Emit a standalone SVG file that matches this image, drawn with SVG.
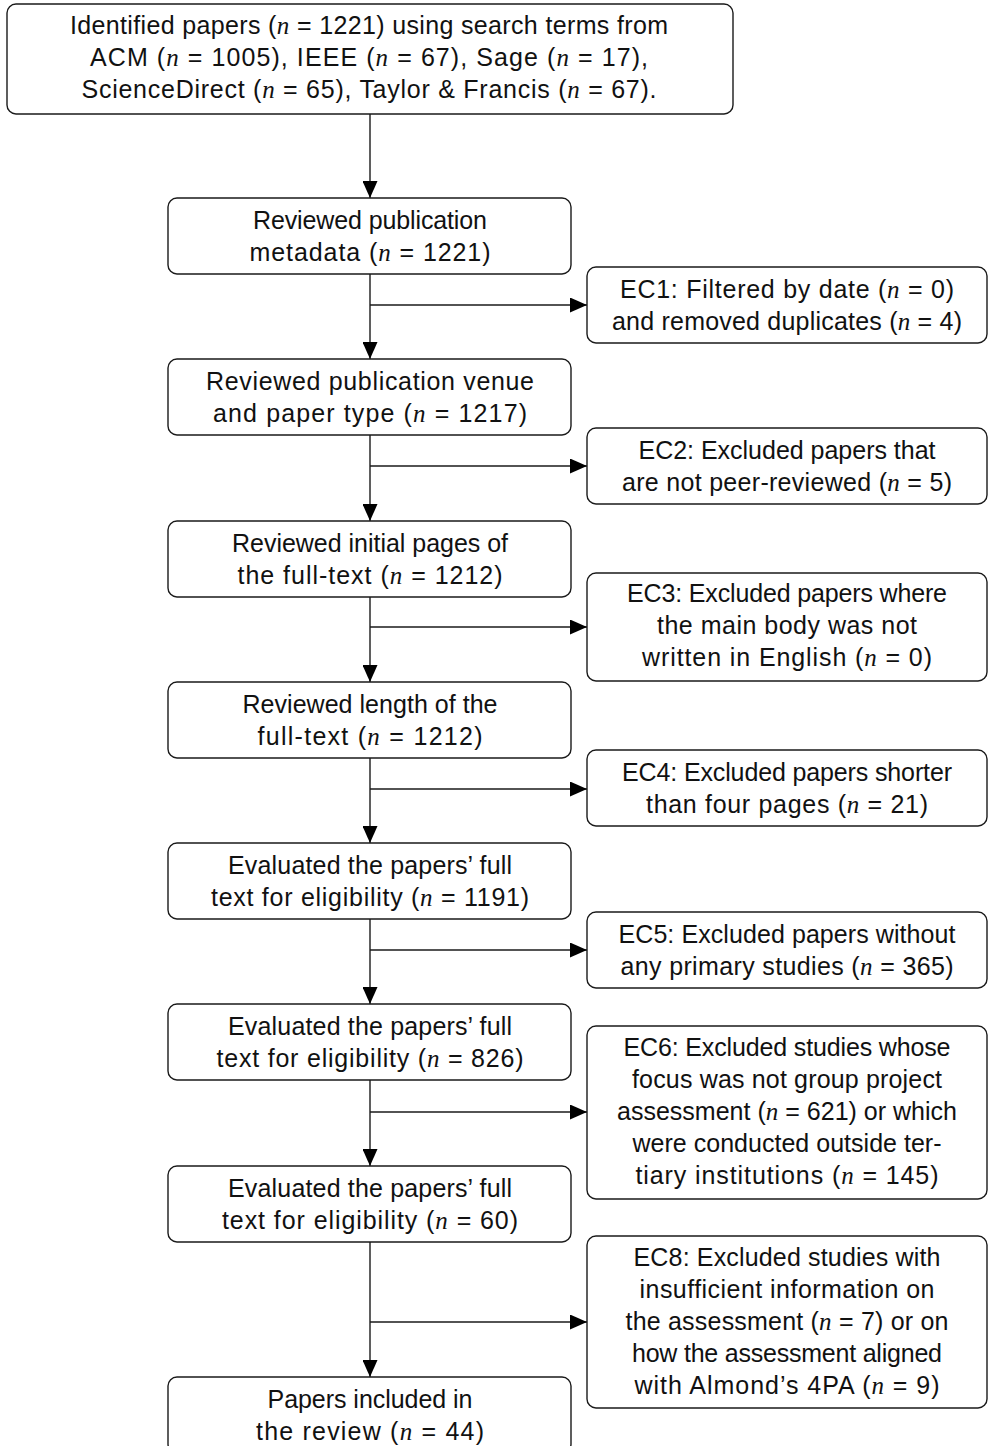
<svg xmlns="http://www.w3.org/2000/svg" width="988" height="1446" viewBox="0 0 988 1446">
<style>
.box{fill:#ffffff;stroke:#1a1a1a;stroke-width:1.4}
.t{font-family:"Liberation Sans",Arial,sans-serif;font-size:25px;fill:#111111;text-anchor:middle}
.n{font-family:"Liberation Serif","Times New Roman",serif;font-style:italic}
.c{fill:none;stroke:#1a1a1a;stroke-width:1.4}
</style>
<defs>
<marker id="ah" markerUnits="userSpaceOnUse" markerWidth="17" markerHeight="15" refX="17" refY="7.5" orient="auto">
<path d="M0,0 L17,7.5 L0,15 Z" fill="#000000"/>
</marker>
</defs>
<rect width="988" height="1446" fill="#ffffff"/>
<g id="connectors">
<path class="c" d="M370,114 V198" marker-end="url(#ah)"/>
<path class="c" d="M370,274 V359" marker-end="url(#ah)"/>
<path class="c" d="M370,305 H587" marker-end="url(#ah)"/>
<path class="c" d="M370,435 V521" marker-end="url(#ah)"/>
<path class="c" d="M370,466 H587" marker-end="url(#ah)"/>
<path class="c" d="M370,597 V682" marker-end="url(#ah)"/>
<path class="c" d="M370,627 H587" marker-end="url(#ah)"/>
<path class="c" d="M370,758 V843" marker-end="url(#ah)"/>
<path class="c" d="M370,789 H587" marker-end="url(#ah)"/>
<path class="c" d="M370,919 V1004" marker-end="url(#ah)"/>
<path class="c" d="M370,950 H587" marker-end="url(#ah)"/>
<path class="c" d="M370,1080 V1166" marker-end="url(#ah)"/>
<path class="c" d="M370,1112 H587" marker-end="url(#ah)"/>
<path class="c" d="M370,1242 V1377" marker-end="url(#ah)"/>
<path class="c" d="M370,1322 H587" marker-end="url(#ah)"/>
</g>
<g id="identified">
<rect class="box" x="7" y="4" width="726" height="110" rx="9"/>
<text class="t" x="369" y="34" textLength="598" lengthAdjust="spacing">Identified papers (<tspan class="n">n</tspan> = 1221) using search terms from</text>
<text class="t" x="369" y="66" textLength="558" lengthAdjust="spacing">ACM (<tspan class="n">n</tspan> = 1005), IEEE (<tspan class="n">n</tspan> = 67), Sage (<tspan class="n">n</tspan> = 17),</text>
<text class="t" x="369" y="98" textLength="575" lengthAdjust="spacing">ScienceDirect (<tspan class="n">n</tspan> = 65), Taylor &amp; Francis (<tspan class="n">n</tspan> = 67).</text>
</g>
<g id="metadata">
<rect class="box" x="168" y="198" width="403" height="76" rx="9"/>
<text class="t" x="370" y="229" textLength="234" lengthAdjust="spacing">Reviewed publication</text>
<text class="t" x="370" y="261" textLength="241" lengthAdjust="spacing">metadata (<tspan class="n">n</tspan> = 1221)</text>
</g>
<g id="venue">
<rect class="box" x="168" y="359" width="403" height="76" rx="9"/>
<text class="t" x="370" y="390" textLength="328" lengthAdjust="spacing">Reviewed publication venue</text>
<text class="t" x="370" y="422" textLength="314" lengthAdjust="spacing">and paper type (<tspan class="n">n</tspan> = 1217)</text>
</g>
<g id="initial">
<rect class="box" x="168" y="521" width="403" height="76" rx="9"/>
<text class="t" x="370" y="552" textLength="276" lengthAdjust="spacing">Reviewed initial pages of</text>
<text class="t" x="370" y="584" textLength="265" lengthAdjust="spacing">the full-text (<tspan class="n">n</tspan> = 1212)</text>
</g>
<g id="length">
<rect class="box" x="168" y="682" width="403" height="76" rx="9"/>
<text class="t" x="370" y="713" textLength="255" lengthAdjust="spacing">Reviewed length of the</text>
<text class="t" x="370" y="745" textLength="225" lengthAdjust="spacing">full-text (<tspan class="n">n</tspan> = 1212)</text>
</g>
<g id="eval1191">
<rect class="box" x="168" y="843" width="403" height="76" rx="9"/>
<text class="t" x="370" y="874" textLength="284" lengthAdjust="spacing">Evaluated the papers’ full</text>
<text class="t" x="370" y="906" textLength="318" lengthAdjust="spacing">text for eligibility (<tspan class="n">n</tspan> = 1191)</text>
</g>
<g id="eval826">
<rect class="box" x="168" y="1004" width="403" height="76" rx="9"/>
<text class="t" x="370" y="1035" textLength="284" lengthAdjust="spacing">Evaluated the papers’ full</text>
<text class="t" x="370" y="1067" textLength="307" lengthAdjust="spacing">text for eligibility (<tspan class="n">n</tspan> = 826)</text>
</g>
<g id="eval60">
<rect class="box" x="168" y="1166" width="403" height="76" rx="9"/>
<text class="t" x="370" y="1197" textLength="284" lengthAdjust="spacing">Evaluated the papers’ full</text>
<text class="t" x="370" y="1229" textLength="296" lengthAdjust="spacing">text for eligibility (<tspan class="n">n</tspan> = 60)</text>
</g>
<g id="included">
<rect class="box" x="168" y="1377" width="403" height="76" rx="9"/>
<text class="t" x="370" y="1408" textLength="205" lengthAdjust="spacing">Papers included in</text>
<text class="t" x="370" y="1440" textLength="228" lengthAdjust="spacing">the review (<tspan class="n">n</tspan> = 44)</text>
</g>
<g id="ec1">
<rect class="box" x="587" y="267" width="400" height="76" rx="9"/>
<text class="t" x="787" y="298" textLength="334" lengthAdjust="spacing">EC1: Filtered by date (<tspan class="n">n</tspan> = 0)</text>
<text class="t" x="787" y="330" textLength="350" lengthAdjust="spacing">and removed duplicates (<tspan class="n">n</tspan> = 4)</text>
</g>
<g id="ec2">
<rect class="box" x="587" y="428" width="400" height="76" rx="9"/>
<text class="t" x="787" y="459" textLength="297" lengthAdjust="spacing">EC2: Excluded papers that</text>
<text class="t" x="787" y="491" textLength="330" lengthAdjust="spacing">are not peer-reviewed (<tspan class="n">n</tspan> = 5)</text>
</g>
<g id="ec3">
<rect class="box" x="587" y="573" width="400" height="108" rx="9"/>
<text class="t" x="787" y="602" textLength="320" lengthAdjust="spacing">EC3: Excluded papers where</text>
<text class="t" x="787" y="634" textLength="260" lengthAdjust="spacing">the main body was not</text>
<text class="t" x="787" y="666" textLength="290" lengthAdjust="spacing">written in English (<tspan class="n">n</tspan> = 0)</text>
</g>
<g id="ec4">
<rect class="box" x="587" y="750" width="400" height="76" rx="9"/>
<text class="t" x="787" y="781" textLength="330" lengthAdjust="spacing">EC4: Excluded papers shorter</text>
<text class="t" x="787" y="813" textLength="282" lengthAdjust="spacing">than four pages (<tspan class="n">n</tspan> = 21)</text>
</g>
<g id="ec5">
<rect class="box" x="587" y="912" width="400" height="76" rx="9"/>
<text class="t" x="787" y="943" textLength="337" lengthAdjust="spacing">EC5: Excluded papers without</text>
<text class="t" x="787" y="975" textLength="333" lengthAdjust="spacing">any primary studies (<tspan class="n">n</tspan> = 365)</text>
</g>
<g id="ec6">
<rect class="box" x="587" y="1026" width="400" height="173" rx="9"/>
<text class="t" x="787" y="1056" textLength="327" lengthAdjust="spacing">EC6: Excluded studies whose</text>
<text class="t" x="787" y="1088" textLength="310" lengthAdjust="spacing">focus was not group project</text>
<text class="t" x="787" y="1120" textLength="340" lengthAdjust="spacing">assessment (<tspan class="n">n</tspan> = 621) or which</text>
<text class="t" x="787" y="1152" textLength="309" lengthAdjust="spacing">were conducted outside ter-</text>
<text class="t" x="787" y="1184" textLength="303" lengthAdjust="spacing">tiary institutions (<tspan class="n">n</tspan> = 145)</text>
</g>
<g id="ec8">
<rect class="box" x="587" y="1236" width="400" height="172" rx="9"/>
<text class="t" x="787" y="1266" textLength="307" lengthAdjust="spacing">EC8: Excluded studies with</text>
<text class="t" x="787" y="1298" textLength="295" lengthAdjust="spacing">insufficient information on</text>
<text class="t" x="787" y="1330" textLength="323" lengthAdjust="spacing">the assessment (<tspan class="n">n</tspan> = 7) or on</text>
<text class="t" x="787" y="1362" textLength="310" lengthAdjust="spacing">how the assessment aligned</text>
<text class="t" x="787" y="1394" textLength="305" lengthAdjust="spacing">with Almond’s 4PA (<tspan class="n">n</tspan> = 9)</text>
</g>
</svg>
